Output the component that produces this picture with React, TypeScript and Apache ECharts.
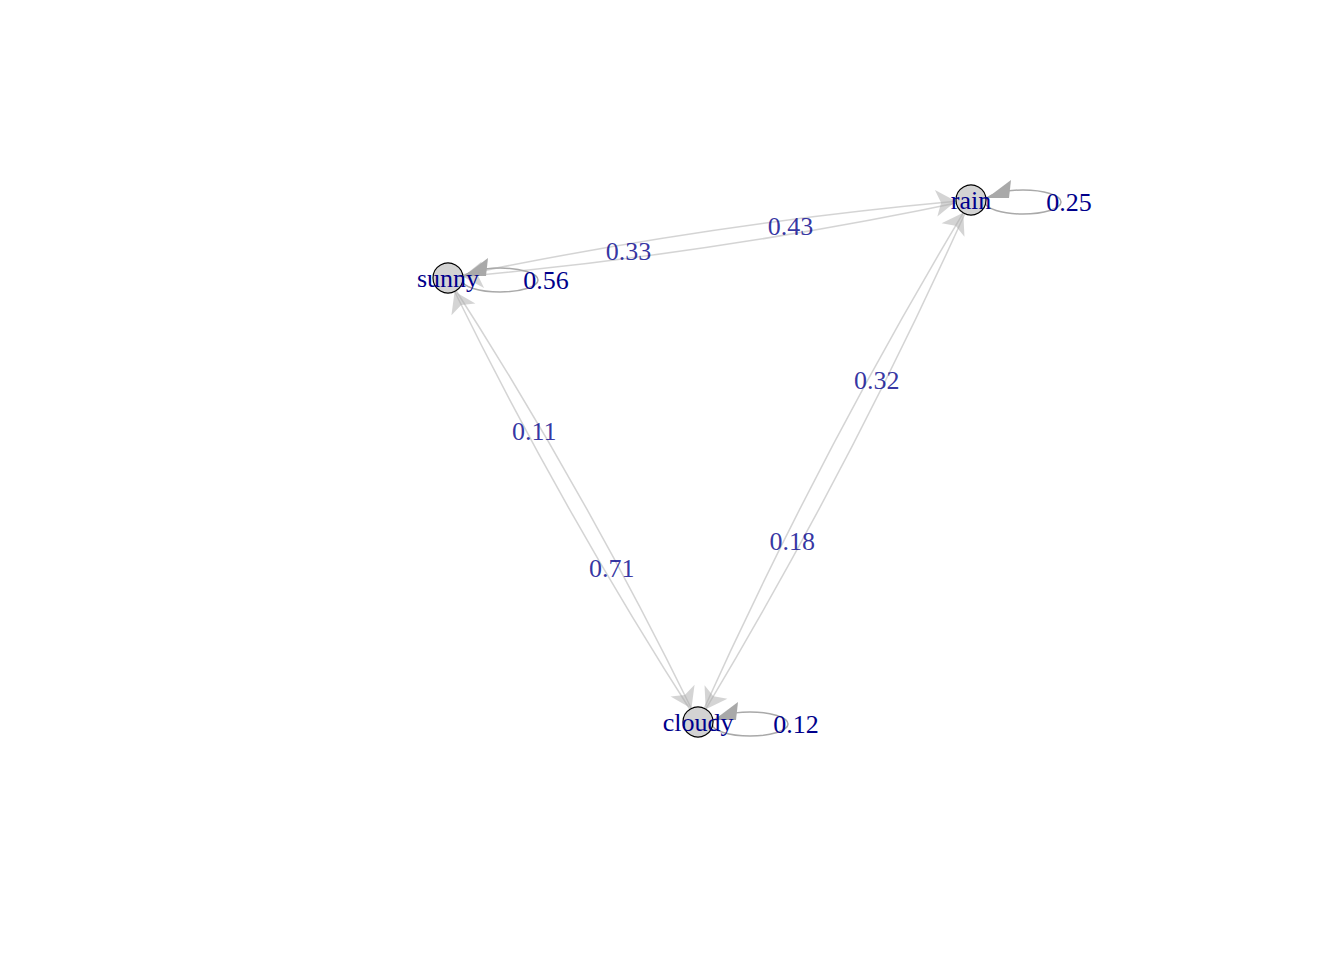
import { useEffect, useRef } from "react";
import * as echarts from "echarts";

const states = ["sunny", "rain", "cloudy"];
const stateX = [448, 971, 698];
const stateY = [278, 200, 722];
const transFrom = ["sunny", "sunny", "rain", "rain", "cloudy", "cloudy"];
const transTo = ["rain", "cloudy", "sunny", "cloudy", "sunny", "rain"];
const transProb = [0.33, 0.11, 0.43, 0.32, 0.71, 0.18];
const selfProb = [0.56, 0.25, 0.12];

const LABEL_FONT = { color: "#00008b", fontFamily: "Liberation Serif", fontSize: 26 };

export default function App() {
  const ref = useRef<HTMLDivElement | null>(null);

  useEffect(() => {
    document.body.style.margin = "0";
    if (!ref.current) return;
    const chart = echarts.init(ref.current, undefined, { renderer: "svg" });
    const idx = (n: string) => states.indexOf(n);

    // edge labels sit a third of the way from the source node
    const edgeLabels = transFrom.map((f, i) => {
      const a = idx(f);
      const b = idx(transTo[i]);
      return {
        value: [
          stateX[a] + (stateX[b] - stateX[a]) * 0.345,
          stateY[a] + (stateY[b] - stateY[a]) * 0.345,
        ],
        name: transProb[i].toFixed(2),
      };
    });

    chart.setOption({
      animation: false,
      grid: { left: 0, right: 0, top: 0, bottom: 0 },
      xAxis: { type: "value", min: 0, max: 1344, show: false },
      yAxis: { type: "value", min: 0, max: 960, inverse: true, show: false },
      series: [
        {
          type: "custom",
          coordinateSystem: "cartesian2d",
          data: states.map((s, i) => [stateX[i], stateY[i], selfProb[i]]),
          z: 1,
          renderItem: (_params: any, api: any) => {
            const [cx, cy] = api.coord([api.value(0), api.value(1)]);
            return {
              type: "group",
              children: [
                {
                  type: "ellipse",
                  shape: { cx: cx + 52, cy: cy + 2, rx: 38, ry: 12 },
                  style: { fill: "none", stroke: "#a9a9a9", lineWidth: 1.5 },
                },
                {
                  type: "polygon",
                  shape: { points: [[cx + 16, cy - 2], [cx + 40, cy - 20], [cx + 38, cy - 2]] },
                  style: { fill: "#a9a9a9" },
                },
                {
                  type: "text",
                  style: {
                    text: api.value(2).toFixed(2),
                    x: cx + 98,
                    y: cy + 2,
                    align: "center",
                    verticalAlign: "middle",
                    fill: LABEL_FONT.color,
                    font: "26px 'Liberation Serif'",
                  },
                },
              ],
            };
          },
        },
        {
          type: "graph",
          coordinateSystem: "cartesian2d",
          z: 2,
          symbolSize: 30,
          edgeSymbol: ["none", "arrow"],
          edgeSymbolSize: 20,
          itemStyle: { color: "#d3d3d3", borderColor: "#000", borderWidth: 1.2 },
          label: { show: true, position: "inside", ...LABEL_FONT },
          lineStyle: { color: "#a9a9a9", width: 1.5, curveness: 0.03 },
          data: states.map((s, i) => ({ name: s, value: [stateX[i], stateY[i]] })),
          links: transFrom.map((f, i) => ({ source: f, target: transTo[i] })),
        },
        {
          type: "scatter",
          z: 3,
          symbolSize: 0,
          data: edgeLabels,
          label: { show: true, position: "inside", formatter: "{b}", ...LABEL_FONT },
        },
      ],
    });
    return () => chart.dispose();
  }, []);

  return <div ref={ref} style={{ width: 1344, height: 960, background: "#fff" }} />;
}
